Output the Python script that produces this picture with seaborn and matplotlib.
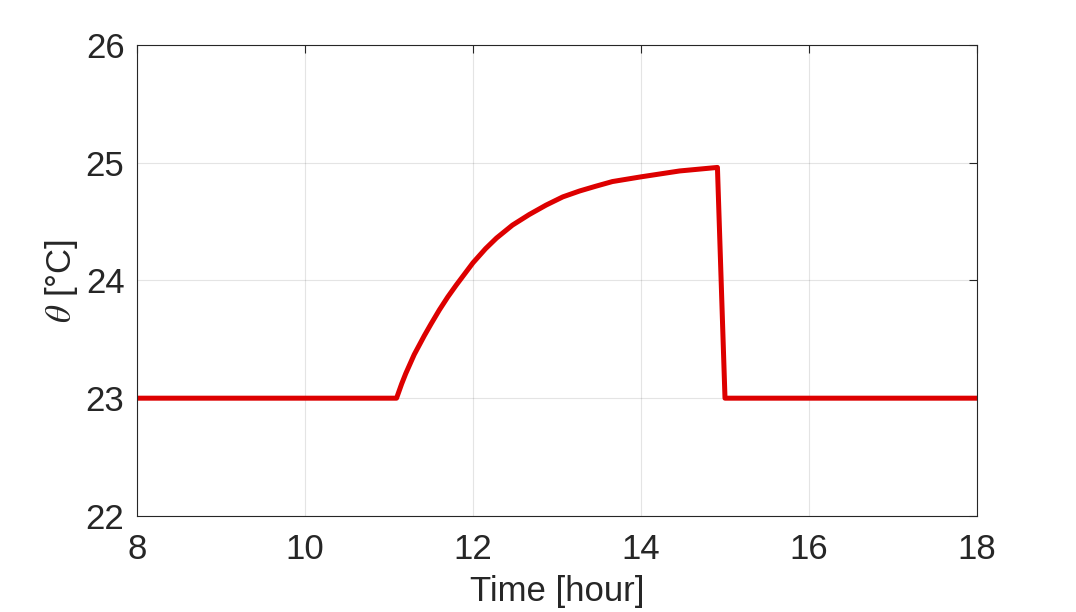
import numpy as np
import pandas as pd
import seaborn as sns
import matplotlib.pyplot as plt

# temperature trace
hours = [8.0, 11.09, 11.15, 11.20, 11.30, 11.42, 11.50, 11.60, 11.70, 11.80, 12.0, 12.15, 12.28, 12.47,
         12.67, 12.87, 13.07, 13.27, 13.46, 13.66, 14.0, 14.46, 14.91, 15.0, 18.0]
theta = [23.0, 23.0, 23.12, 23.21, 23.37, 23.53, 23.63, 23.75, 23.86, 23.96, 24.15, 24.27, 24.36, 24.47,
         24.56, 24.64, 24.71, 24.76, 24.80, 24.84, 24.88, 24.93, 24.96, 23.0, 23.0]

xticks = [8, 10, 12, 14, 16, 18]
yticks = [22, 23, 24, 25, 26]

df = pd.DataFrame({"hour": hours, "theta": theta})

sns.set_style("white")
plt.rcParams["font.family"] = ["Liberation Sans", "DejaVu Sans"]
plt.rcParams["mathtext.fontset"] = "stix"

fig = plt.figure(figsize=(10.76, 6.12), dpi=100)
ax = fig.add_axes([0.1273, 0.157, 0.7807, 0.7695])

sns.lineplot(data=df, x="hour", y="theta", color="#DD0000", linewidth=3.6, ax=ax)

ax.set_xlim(8, 18)
ax.set_ylim(22, 26)
ax.set_xticks(xticks)
ax.set_yticks(yticks)
ax.grid(True, color="#262626", alpha=0.12, linewidth=0.8)

for s in ax.spines.values():
    s.set_color("#262626")
    s.set_linewidth(0.8)

ax.tick_params(axis="both", direction="in", top=True, right=True, length=6,
               width=0.8, color="#262626", labelcolor="#262626", labelsize=25)
ax.tick_params(axis="x", pad=12)
ax.tick_params(axis="y", pad=9)

ax.set_xlabel("Time [hour]", fontsize=25, color="#262626", labelpad=7)
ax.set_ylabel(r"$\theta$ [°C]", fontsize=25, color="#262626", labelpad=4)

fig.savefig("out.png", dpi=100)
